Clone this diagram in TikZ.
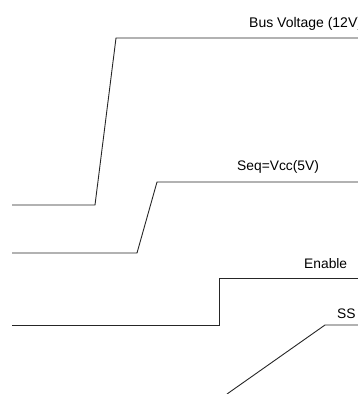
\documentclass[tikz,border=0pt]{standalone}
\usepackage{fontspec}
\setmainfont{Liberation Sans}
\begin{document}
\begin{tikzpicture}[x=1pt,y=-1pt,
  wave/.style={draw=black!85,line width=0.9pt,line join=miter},
  lbl/.style={anchor=base west,inner sep=0pt,font=\fontsize{13.8}{16}\selectfont,text=black}]
\useasboundingbox (0,0) rectangle (358,394);
\clip (0,0) rectangle (358,394);
% Bus voltage
\draw[wave] (12,205) -- (95,205) -- (116,38) -- (360,38);
\node[lbl,font=\fontsize{14}{16}\selectfont] (bus) at (249,27) {Bus Voltage (12V)};
% Seq
\draw[wave] (12,253) -- (137,253) -- (157,182) -- (360,182);
\node[lbl] (seq) at (237,170) {Seq=Vcc(5V)};
% Enable
\draw[wave] (12,325) -- (219,325) -- (219,278) -- (360,278);
\node[lbl] (en) at (304,268) {Enable};
% SS
\draw[wave] (227,394) -- (325,325) -- (360,325);
\node[lbl] (ss) at (337,318) {SS};
\end{tikzpicture}
\end{document}
